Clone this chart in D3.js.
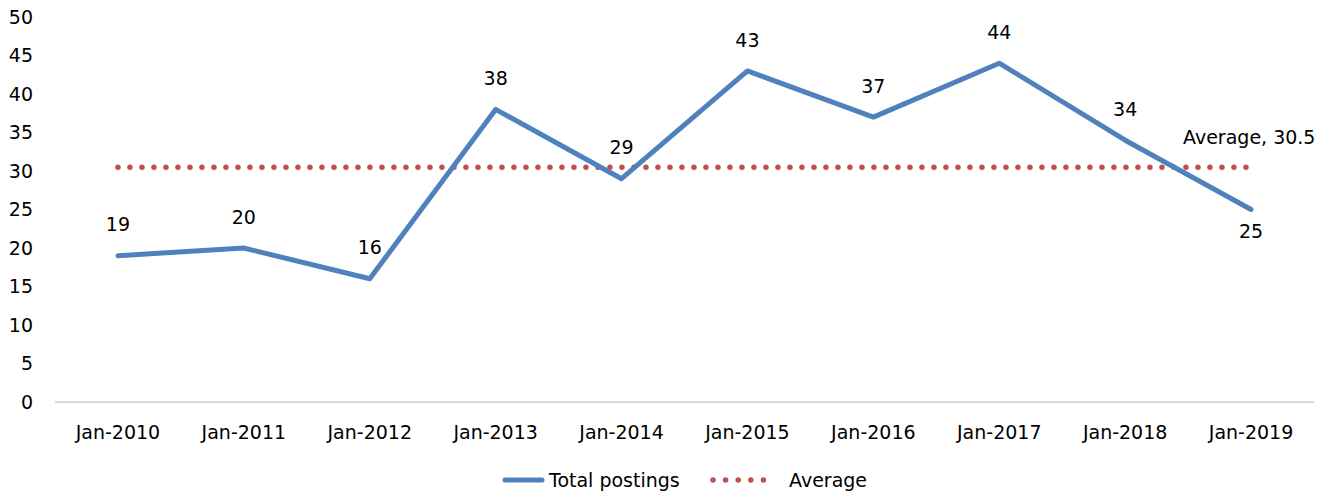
<!DOCTYPE html>
<html>
<head>
<meta charset="utf-8">
<script src="https://cdn.jsdelivr.net/npm/d3@7"></script>
<style>
  body { margin: 0; background: #fff; }
  text { font-family: "DejaVu Sans", sans-serif; fill: #000; }
</style>
</head>
<body>
<svg id="chart" width="1336" height="494"></svg>
<script>
const categories = ["Jan-2010", "Jan-2011", "Jan-2012", "Jan-2013", "Jan-2014",
                    "Jan-2015", "Jan-2016", "Jan-2017", "Jan-2018", "Jan-2019"];
const totalPostings = [19, 20, 16, 38, 29, 43, 37, 44, 34, 25];
const averageValue = 30.5;
const yTicks = [0, 5, 10, 15, 20, 25, 30, 35, 40, 45, 50];

const margin = { top: 17, right: 22, bottom: 92, left: 55 };
const width = 1336, height = 494;
const fs = '19px';

const svg = d3.select('#chart');

const x = d3.scaleBand()
  .domain(categories)
  .range([margin.left, width - margin.right]);

const y = d3.scaleLinear()
  .domain([0, 50])
  .range([height - margin.bottom, margin.top]);

const cx = d => x(d) + x.bandwidth() / 2;

// y axis labels (no axis line)
svg.append('g')
  .selectAll('text')
  .data(yTicks)
  .enter().append('text')
  .attr('x', 33)
  .attr('y', d => y(d))
  .attr('dy', '0.35em')
  .attr('text-anchor', 'end')
  .style('font-size', fs)
  .text(d => d);

// x axis
svg.append('line')
  .attr('x1', margin.left)
  .attr('x2', width - margin.right)
  .attr('y1', y(0))
  .attr('y2', y(0))
  .attr('stroke', '#d9d9d9')
  .attr('stroke-width', 2);

svg.append('g')
  .selectAll('text')
  .data(categories)
  .enter().append('text')
  .attr('x', d => cx(d))
  .attr('y', y(0) + 37)
  .attr('text-anchor', 'middle')
  .style('font-size', fs)
  .text(d => d);

// average dotted line
svg.append('line')
  .attr('x1', cx(categories[0]))
  .attr('x2', cx(categories[categories.length - 1]) - 4)
  .attr('y1', y(averageValue))
  .attr('y2', y(averageValue))
  .attr('stroke', '#c0504d')
  .attr('stroke-width', 5.5)
  .attr('stroke-linecap', 'round')
  .attr('stroke-dasharray', '0 12');

svg.append('text')
  .attr('x', cx(categories[categories.length - 1]) - 68)
  .attr('y', y(averageValue) - 30)
  .attr('dy', '0.35em')
  .style('font-size', fs)
  .text('Average, ' + averageValue);

// total postings line
const line = d3.line()
  .x((d, i) => cx(categories[i]))
  .y(d => y(d));

svg.append('path')
  .datum(totalPostings)
  .attr('d', line)
  .attr('fill', 'none')
  .attr('stroke', '#4f81bd')
  .attr('stroke-width', 5)
  .attr('stroke-linejoin', 'round')
  .attr('stroke-linecap', 'round');

// data labels
svg.append('g')
  .selectAll('text')
  .data(totalPostings)
  .enter().append('text')
  .attr('x', (d, i) => cx(categories[i]))
  .attr('y', (d, i) => i === totalPostings.length - 1 ? y(d) + 22 : y(d) - 31)
  .attr('dy', '0.35em')
  .attr('text-anchor', 'middle')
  .style('font-size', fs)
  .text(d => d);

// legend
const legY = 480;
svg.append('line')
  .attr('x1', 505).attr('x2', 542)
  .attr('y1', legY).attr('y2', legY)
  .attr('stroke', '#4f81bd')
  .attr('stroke-width', 5)
  .attr('stroke-linecap', 'round');
svg.append('text')
  .attr('x', 549).attr('y', legY)
  .attr('dy', '0.35em')
  .style('font-size', fs)
  .text('Total postings');

svg.append('line')
  .attr('x1', 713).attr('x2', 776)
  .attr('y1', legY).attr('y2', legY)
  .attr('stroke', '#c0504d')
  .attr('stroke-width', 5.5)
  .attr('stroke-linecap', 'round')
  .attr('stroke-dasharray', '0 12.6');
svg.append('text')
  .attr('x', 789).attr('y', legY)
  .attr('dy', '0.35em')
  .style('font-size', fs)
  .text('Average');
</script>
</body>
</html>
